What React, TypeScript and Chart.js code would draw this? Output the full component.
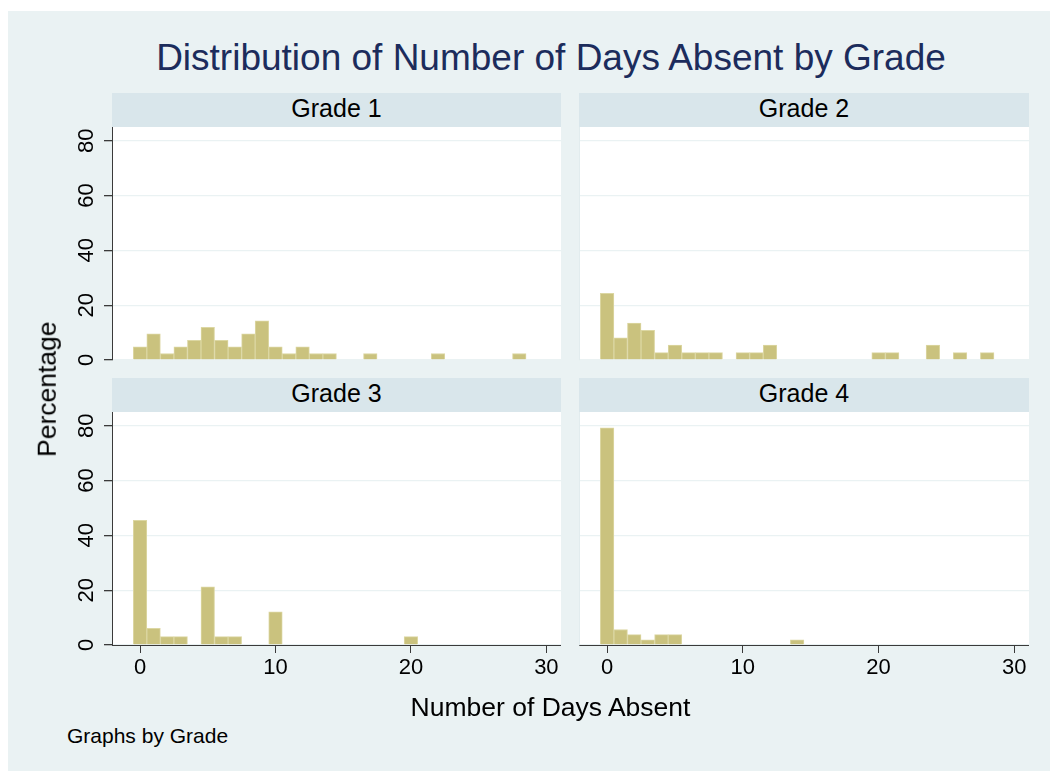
import React, { useEffect, useRef } from "react";
import { Chart, registerables } from "chart.js";

Chart.register(...registerables);

const FONT = '"Liberation Sans", Arial, Helvetica, sans-serif';

// ---- data ----
const grade1Days = [0, 1, 2, 3, 4, 5, 6, 7, 8, 9, 10, 11, 12, 13, 14, 17, 22, 28];
const grade1Pct = [4.76, 9.52, 2.38, 4.76, 7.14, 11.9, 7.14, 4.76, 9.52, 14.29, 4.76, 2.38, 4.76, 2.38, 2.38, 2.38, 2.38, 2.38];

const grade2Days = [0, 1, 2, 3, 4, 5, 6, 7, 8, 10, 11, 12, 20, 21, 24, 26, 28];
const grade2Pct = [24.32, 8.11, 13.51, 10.81, 2.7, 5.41, 2.7, 2.7, 2.7, 2.7, 2.7, 5.41, 2.7, 2.7, 5.41, 2.7, 2.7];

const grade3Days = [0, 1, 2, 3, 5, 6, 7, 10, 20];
const grade3Pct = [45.45, 6.06, 3.03, 3.03, 21.21, 3.03, 3.03, 12.12, 3.03];

const grade4Days = [0, 1, 2, 3, 4, 5, 14];
const grade4Pct = [79.25, 5.66, 3.77, 1.89, 3.77, 3.77, 1.89];

const xTickValues = [0, 10, 20, 30];
const yTickValues = [0, 20, 40, 60, 80];
const panelTitles = ["Grade 1", "Grade 2", "Grade 3", "Grade 4"];
const chartTitle = "Distribution of Number of Days Absent by Grade";
const xAxisTitle = "Number of Days Absent";
const yAxisTitle = "Percentage";
const noteText = "Graphs by Grade";

const X_MIN = -2.07;
const X_MAX = 31.08;
const Y_MAX = 85;

const BG = "#EAF2F3";
const STRIP = "#D9E6EB";
const BAR_FILL = "rgb(202,194,126)";
const BAR_EDGE = "rgb(220,215,163)";
const AXIS = "#3a3a3a";

type PanelProps = {
  days: number[];
  pct: number[];
  showY: boolean;
  showX: boolean;
  left: number;
  top: number;
  w: number;
  h: number;
};

const LEFT_W = 60;
const BOTTOM_H = 60;
const TOP_PANEL_PAD = 16;

function Panel({ days, pct, showY, showX, left, top, w, h }: PanelProps) {
  const ref = useRef<HTMLCanvasElement | null>(null);
  useEffect(() => {
    const leftW = showY ? LEFT_W : 0;
    const bottomH = showX ? BOTTOM_H : 0;
    const bgPlugin = {
      id: "plotBg",
      beforeDraw(chart: any) {
        const { ctx, chartArea } = chart;
        ctx.save();
        ctx.fillStyle = "#ffffff";
        ctx.fillRect(chartArea.left, chartArea.top, chartArea.right - chartArea.left, chartArea.bottom - chartArea.top);
        ctx.restore();
      },
    };
    const yLabelPlugin = {
      id: "yRotLabels",
      afterDraw(chart: any) {
        if (!showY) return;
        const ctx = chart.ctx;
        const ys = chart.scales.y;
        for (const v of yTickValues) {
          const py = ys.getPixelForValue(v);
          ctx.save();
          ctx.font = `22px ${FONT}`;
          ctx.fillStyle = "#000";
          ctx.textAlign = "center";
          ctx.textBaseline = "alphabetic";
          ctx.translate(chart.chartArea.left - 19, py);
          ctx.rotate(-Math.PI / 2);
          ctx.fillText(String(v), 0, 0);
          ctx.restore();
        }
      },
    };
    const chart = new Chart(ref.current as HTMLCanvasElement, {
      type: "bar",
      data: {
        datasets: [
          {
            data: days.map((d, i) => ({ x: d, y: pct[i] })),
            backgroundColor: BAR_FILL,
            borderColor: BAR_EDGE,
            borderWidth: 1,
            barPercentage: 1,
            categoryPercentage: 1,
          } as any,
        ],
      },
      options: {
        animation: false,
        responsive: true,
        maintainAspectRatio: false,
        layout: { padding: { left: 0, right: 0, top: 0, bottom: showX ? 0 : TOP_PANEL_PAD } },
        plugins: {
          legend: { display: false },
          tooltip: { enabled: false },
          title: { display: false },
        },
        scales: {
          x: {
            type: "linear",
            min: X_MIN,
            max: X_MAX,
            offset: false,
            display: showX,
            afterBuildTicks: (s: any) => {
              s.ticks = xTickValues.map((v) => ({ value: v }));
            },
            afterFit: (s: any) => {
              s.height = bottomH;
            },
            ticks: {
              font: { family: FONT, size: 22 },
              color: "#000",
              padding: 2,
              maxRotation: 0,
              minRotation: 0,
              autoSkip: false,
            },
            grid: {
              offset: false,
              drawOnChartArea: false,
              tickLength: 8,
              tickColor: AXIS,
              color: AXIS,
            },
            border: { color: AXIS, width: 1 },
          },
          y: {
            type: "linear",
            min: 0,
            max: Y_MAX,
            afterBuildTicks: (s: any) => {
              s.ticks = yTickValues.map((v) => ({ value: v }));
            },
            afterFit: (s: any) => {
              s.width = leftW;
            },
            ticks: { display: false },
            grid: {
              color: BG,
              lineWidth: 1.3,
              drawTicks: showY,
              tickLength: 8,
              tickColor: AXIS,
            },
            border: { display: true, color: showY ? AXIS : "#E2ECEE", width: 1 },
          },
        },
      } as any,
      plugins: [bgPlugin, yLabelPlugin],
    });
    return () => chart.destroy();
  }, []);
  const leftW = showY ? LEFT_W : 0;
  const bottomH = showX ? BOTTOM_H : TOP_PANEL_PAD;
  return (
    <div
      style={{
        position: "absolute",
        left: left - leftW,
        top: top,
        width: w + leftW,
        height: h + bottomH,
      }}
    >
      <canvas ref={ref} />
    </div>
  );
}

type TextProps = {
  text: string;
  x: number;
  baseline: number;
  size: number;
  color?: string;
  align?: "center" | "left";
};

function Label({ text, x, baseline, size, color = "#000", align = "center" }: TextProps) {
  const top = baseline - 0.8465 * size;
  const style: React.CSSProperties = {
    position: "absolute",
    top,
    fontFamily: FONT,
    fontSize: size,
    lineHeight: `${size}px`,
    color,
    whiteSpace: "nowrap",
  };
  if (align === "center") {
    style.left = x - 500;
    style.width = 1000;
    style.textAlign = "center";
  } else {
    style.left = x;
  }
  return <div style={style}>{text}</div>;
}

const PLOT_W_L = 449;
const PLOT_W_R = 450;
const PLOT_H = 233;
const COL_L = 112;
const COL_R = 579;
const ROW_T = 127;
const ROW_B = 412;
const STRIP_H = 34;

export default function App() {
  const panels = [
    { days: grade1Days, pct: grade1Pct, showY: true, showX: false, left: COL_L, top: ROW_T, w: PLOT_W_L },
    { days: grade2Days, pct: grade2Pct, showY: false, showX: false, left: COL_R, top: ROW_T, w: PLOT_W_R },
    { days: grade3Days, pct: grade3Pct, showY: true, showX: true, left: COL_L, top: ROW_B, w: PLOT_W_L },
    { days: grade4Days, pct: grade4Pct, showY: false, showX: true, left: COL_R, top: ROW_B, w: PLOT_W_R },
  ];
  const yTitleSize = 26.5;
  return (
    <div style={{ position: "absolute", left: 0, top: 0, width: 1050, height: 771, background: "#fff", overflow: "hidden" }}>
      <div style={{ position: "absolute", left: 8, top: 11, width: 1042, height: 760, background: BG }} />
      <Label text={chartTitle} x={551} baseline={70.7} size={37} color="#1C2C5C" />
      {panels.map((p, i) => (
        <React.Fragment key={i}>
          <div
            style={{
              position: "absolute",
              left: p.left,
              top: p.top - STRIP_H,
              width: p.w,
              height: STRIP_H,
              background: STRIP,
            }}
          />
          <Label text={panelTitles[i]} x={p.left + p.w / 2} baseline={p.top - 10.3} size={25} />
          <Panel {...p} h={PLOT_H} />
        </React.Fragment>
      ))}
      <Label text={xAxisTitle} x={550.5} baseline={716} size={26.5} />
      <div
        style={{
          position: "absolute",
          left: 47.1 - 150,
          top: 389 - yTitleSize / 2,
          width: 300,
          height: yTitleSize,
          lineHeight: `${yTitleSize}px`,
          fontSize: yTitleSize,
          fontFamily: FONT,
          textAlign: "center",
          color: "#000",
          transform: "rotate(-90deg)",
          whiteSpace: "nowrap",
        }}
      >
        {yAxisTitle}
      </div>
      <Label text={noteText} x={67} baseline={742.7} size={21} align="left" />
    </div>
  );
}
